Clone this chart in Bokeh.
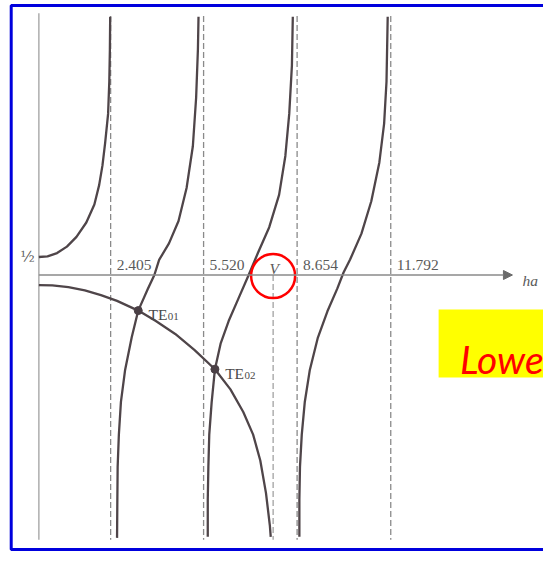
from bokeh.plotting import figure
from bokeh.models import Range1d, BoxAnnotation, Label, Arrow, NormalHead, ColumnDataSource
from bokeh.core.properties import value
from bokeh.embed import file_html
from bokeh.resources import INLINE

# ---------------- data (x = ha, y = function value) ----------------
zero_x = [2.405, 5.520, 8.654, 11.792]          # zeros of J0 (dashed asymptotes)
zero_labels = ["2.405", "5.520", "8.654", "11.792"]
V = 7.85                                          # normalized frequency V
half_label = "½"

# left-hand side branches  J1(ha) / (ha J0(ha))
b1_x = [0.00, 0.29, 0.61, 0.94, 1.26, 1.59, 1.86, 2.02, 2.13, 2.22, 2.32, 2.36, 2.38, 2.39]
b1_y = [0.50, 0.52, 0.61, 0.79, 1.06, 1.46, 1.96, 2.50, 3.04, 3.67, 4.48, 5.38, 6.28, 7.18]

b2_x = [2.62, 2.63, 2.64, 2.68, 2.75, 2.89, 3.11, 3.33, 3.65, 3.87, 4.03, 4.36, 4.68, 4.95, 5.16, 5.27, 5.33, 5.35]
b2_y = [-7.31, -6.23, -5.34, -4.45, -3.53, -2.64, -1.74, -0.99, -0.39, 0.00, 0.42, 0.88, 1.50, 2.42, 3.58, 4.93, 6.28, 7.18]

b3_x = [5.66, 5.66, 5.68, 5.71, 5.79, 5.90, 6.09, 6.36, 6.69, 7.02, 7.34, 7.72, 8.05, 8.26, 8.39, 8.48, 8.51]
b3_y = [-7.28, -6.24, -5.34, -4.44, -3.54, -2.62, -1.91, -1.28, -0.65, -0.02, 0.61, 1.33, 2.23, 3.31, 4.48, 5.83, 7.18]

b4_x = [8.73, 8.73, 8.75, 8.81, 8.91, 9.08, 9.35, 9.67, 10.00, 10.21, 10.43, 10.81, 11.14, 11.41, 11.57, 11.65, 11.69]
b4_y = [-7.28, -6.24, -5.34, -4.44, -3.54, -2.64, -1.74, -1.01, -0.38, 0.07, 0.43, 1.15, 2.05, 3.13, 4.21, 5.38, 7.18]

# right-hand side  -K1(qa) / (qa K0(qa))
rhs_x = [0.00, 0.45, 0.99, 1.54, 2.08, 2.62, 3.33, 3.92, 4.57, 5.22, 5.90, 6.42, 6.85, 7.18, 7.42, 7.61, 7.74, 7.77]
rhs_y = [-0.28, -0.29, -0.34, -0.43, -0.56, -0.72, -0.99, -1.28, -1.64, -2.09, -2.62, -3.18, -3.81, -4.44, -5.16, -6.06, -6.96, -7.28]

# mode solutions
te_x = [3.33, 5.90]
te_y = [-0.99, -2.62]
te_main = ["TE", "TE"]
te_sub = ["01", "02"]

note_text = "Lowest"

# ---------------- layout helpers ----------------
PXX = 1 / 29.84   # data units per pixel (x)
PXY = 1 / 35.96   # data units per pixel (y)
Y_TOP, Y_BOT = 7.20, -7.36

p = figure(width=543, height=551,
           x_range=Range1d(-1.2859, 16.911), y_range=Range1d(-7.6891, 7.6335),
           x_axis_type=None, y_axis_type=None, min_border=0,
           output_backend="svg", toolbar_location=None)
p.grid.visible = False
p.outline_line_color = None
p.background_fill_color = "white"
p.border_fill_color = "white"

# yellow note box (under everything)
p.add_layout(BoxAnnotation(left=13.396, right=30, top=-0.959, bottom=-2.853,
                           fill_color="#ffff00", fill_alpha=1, line_color=None, level="underlay"))

# vertical axis
p.segment(x0=[0], x1=[0], y0=[7.28], y1=[Y_BOT], line_color="#a8a8a8", line_width=1.4)

# dashed asymptotes
p.segment(x0=zero_x, x1=zero_x, y0=[Y_TOP] * len(zero_x), y1=[Y_BOT] * len(zero_x),
          line_color="#8a8a8a", line_width=1.3, line_dash="6 3")
# V line
p.segment(x0=[V], x1=[V], y0=[0], y1=[Y_BOT], line_color="#9a9a9a", line_width=1.2, line_dash="6 3")

# horizontal axis with arrow
p.add_layout(Arrow(x_start=0, y_start=0, x_end=15.87, y_end=0,
                   line_color="#8a8a8a", line_width=1.6,
                   end=NormalHead(size=9, fill_color="#6a6a6a", line_color="#6a6a6a")))

curve_color = "#4f4549"
for xs, ys in [(b1_x, b1_y), (b2_x, b2_y), (b3_x, b3_y), (b4_x, b4_y), (rhs_x, rhs_y)]:
    p.line(xs, ys, line_color=curve_color, line_width=2.3, line_join="round")

# mode points
p.scatter(te_x, te_y, size=8, marker="circle", fill_color="#4a3f45", line_color="#4a3f45")

serif = value("Liberation Serif")
FS = "15.5px"
# tick labels
tick_src = ColumnDataSource(dict(x=[z + 6 * PXX for z in zero_x], y=[10 * PXY] * len(zero_x), t=zero_labels))
p.text(x="x", y="y", text="t", source=tick_src, text_font=serif, text_font_size=FS,
       text_color="#5a5a5a", text_align="left", text_baseline="alphabetic")
# 1/2 label
p.text(x=[-4 * PXX], y=[0.51], text=[half_label], text_font=value("DejaVu Serif"), text_font_size="15px",
       text_color="#5a5a5a", text_align="right", text_baseline="middle")
# V label
p.text(x=[V + 1 * PXX], y=[6.3 * PXY], text=["V"], text_font=serif, text_font_size=FS,
       text_font_style="italic", text_color="#5a5a5a", text_align="center", text_baseline="alphabetic")
# ha label
p.text(x=[15.87 + 10 * PXX], y=[-5.3 * PXY], text=["ha"], text_font=serif, text_font_size=FS,
       text_font_style="italic", text_color="#5a5a5a", text_align="left", text_baseline="alphabetic")
# TE labels
te_src = ColumnDataSource(dict(
    x=[x + 10.2 * PXX for x in te_x], y=[y - 4 * PXY for y in te_y],
    xs=[x + 29.6 * PXX for x in te_x], ys=[y - 6 * PXY for y in te_y],
    m=te_main, s=te_sub))
p.text(x="x", y="y", text="m", source=te_src, text_font=serif, text_font_size=FS,
       text_color="#4a4a4a", text_align="left", text_baseline="alphabetic")
p.text(x="xs", y="ys", text="s", source=te_src, text_font=serif, text_font_size="11px",
       text_color="#4a4a4a", text_align="left", text_baseline="alphabetic")

# red circle around V
p.scatter([V], [-1 * PXY], size=44, marker="circle", fill_alpha=0, line_color="#ff0000", line_width=2.5)

# note text
p.add_layout(Label(x=14.113, y=-2.347, text=note_text, text_font="Lato", text_font_size="39px",
                   text_font_style="italic", text_color="#ff0000", text_baseline="alphabetic"))

# blue frame
p.add_layout(BoxAnnotation(left=-0.927, right=30, top=7.497, bottom=-7.636,
                           fill_alpha=0, line_color="#0000dd", line_alpha=1, line_width=3))

open("out.html", "w").write(file_html(p, INLINE))
